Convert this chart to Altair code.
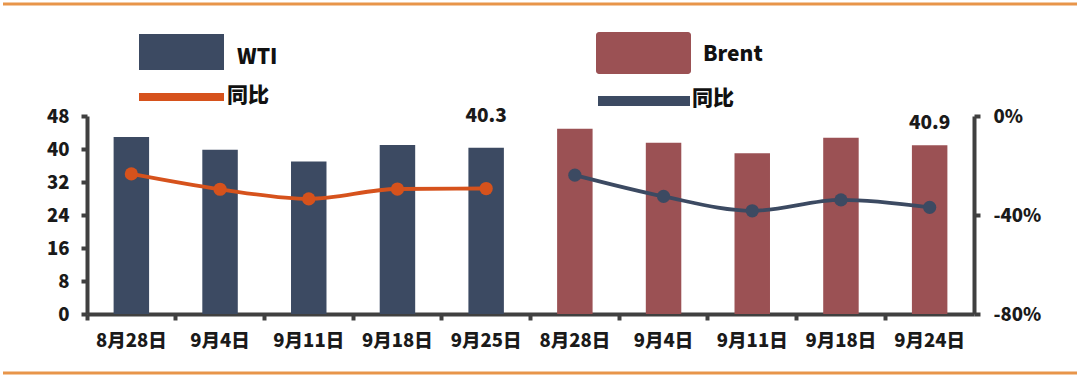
import altair as alt
import pandas as pd

# ---- data ----
series = ["WTI", "Brent"]
wti_dates = ["8月28日", "9月4日", "9月11日", "9月18日", "9月25日"]
brent_dates = ["8月28日", "9月4日", "9月11日", "9月18日", "9月24日"]
wti_price = [42.9, 39.8, 37.0, 41.0, 40.3]
brent_price = [44.9, 41.5, 39.0, 42.7, 40.9]
wti_yoy = [-0.234, -0.296, -0.335, -0.295, -0.293]
brent_yoy = [-0.239, -0.325, -0.383, -0.339, -0.369]
labelled = ["WTI|9月25日", "Brent|9月24日"]

rows = []
for s, dates, prices, yoys in [("WTI", wti_dates, wti_price, wti_yoy),
                               ("Brent", brent_dates, brent_price, brent_yoy)]:
    for d, p, y in zip(dates, prices, yoys):
        rows.append({"series": s, "date": d, "key": f"{s}|{d}", "price": p, "yoy": y})
df = pd.DataFrame(rows)
order = list(df["key"])

FONT = "Noto Sans CJK SC"
W = 900
NAVY = "#3C4A62"
MAROON = "#9B5154"
ORANGE = "#D6521C"
AXIS = "#404040"
GOLD = "#E8954A"

X = alt.X("key:N", sort=order, title=None,
          scale=alt.Scale(paddingInner=0, paddingOuter=0),
          axis=alt.Axis(labelExpr="split(datum.label, '|')[1]", labelAngle=0,
                        bandPosition=0, labelPadding=11, labelFontSize=18.5,
                        labelOverlap=False))
Yp = alt.Y("price:Q", title=None,
           scale=alt.Scale(domain=[0, 48], nice=False),
           axis=alt.Axis(values=[0, 8, 16, 24, 32, 40, 48], grid=False,
                         labelPadding=12, orient="left", labelOverlap=False))

base = alt.Chart(df)

bars = base.mark_bar(width=alt.RelativeBandSize(0.4)).encode(
    x=X, y=Yp,
    color=alt.Color("series:N", scale=alt.Scale(domain=series, range=[NAVY, MAROON]), legend=None),
)
lab1 = base.transform_filter(alt.datum.key == labelled[0]).mark_text(
    dy=-32, font=FONT, fontWeight=W, fontSize=19, color="#1a1a1a"
).encode(x=X, y=Yp, text=alt.Text("price:Q", format=".1f"))
lab2 = base.transform_filter(alt.datum.key == labelled[1]).mark_text(
    dy=-22, font=FONT, fontWeight=W, fontSize=19, color="#1a1a1a"
).encode(x=X, y=Yp, text=alt.Text("price:Q", format=".1f"))
bar_layer = alt.layer(bars, lab1, lab2)

Ypct = alt.Y("yoy:Q", title=None,
             scale=alt.Scale(domain=[-0.8, 0], nice=False),
             axis=alt.Axis(values=[0, -0.4, -0.8], format=".0%", grid=False,
                           orient="right", labelPadding=13, labelOverlap=False,
                           labelExpr="replace(datum.label, '−', '-')"))
line_color = alt.Color("series:N", scale=alt.Scale(domain=series, range=[ORANGE, NAVY]), legend=None)
lines = base.mark_line(interpolate="monotone", strokeWidth=3.8).encode(
    x=X, y=Ypct, color=line_color, detail="series:N")
points = base.mark_point(filled=True, size=175, opacity=1).encode(
    x=X, y=Ypct, color=line_color)
line_layer = alt.layer(lines, points)

# ---- custom legend and frame lines ----
one = alt.Chart(pd.DataFrame({"a": [0]}))
txt = dict(align="left", baseline="middle", font=FONT, fontWeight=W, fontSize=21, color="#111")
leg = [
    one.mark_rect(color=NAVY).encode(x=alt.value(52), x2=alt.value(137), y=alt.value(-82), y2=alt.value(-46)),
    one.mark_text(**txt).encode(x=alt.value(150), y=alt.value(-58), text=alt.value("WTI")),
    one.mark_rule(color=ORANGE, strokeWidth=8).encode(x=alt.value(52), x2=alt.value(137), y=alt.value(-19)),
    one.mark_text(**txt).encode(x=alt.value(140), y=alt.value(-20), text=alt.value("同比")),
    one.mark_rect(color=MAROON, cornerRadius=3).encode(x=alt.value(509), x2=alt.value(604), y=alt.value(-84), y2=alt.value(-42)),
    one.mark_text(**txt).encode(x=alt.value(616), y=alt.value(-61), text=alt.value("Brent")),
    one.mark_rule(color=NAVY, strokeWidth=10).encode(x=alt.value(511), x2=alt.value(603), y=alt.value(-15)),
    one.mark_text(**txt).encode(x=alt.value(605), y=alt.value(-17), text=alt.value("同比")),
    one.mark_rule(color=GOLD, strokeWidth=3).encode(x=alt.value(-84), x2=alt.value(990), y=alt.value(-112)),
    one.mark_rule(color=GOLD, strokeWidth=3).encode(x=alt.value(-84), x2=alt.value(990), y=alt.value(257)),
]

chart = alt.layer(bar_layer, line_layer, *leg).resolve_scale(
    y="independent", color="independent"
).properties(
    width=887, height=198,
    padding={"left": 87, "top": 116, "right": 106, "bottom": 64},
    autosize=alt.AutoSizeParams(type="none"),
    background="white",
).configure_view(stroke=None).configure_axis(
    domainColor=AXIS, domainWidth=4, tickColor=AXIS, tickWidth=4, tickSize=6,
    labelFont=FONT, labelFontWeight=W, labelFontSize=18.5, labelColor="#1a1a1a",
)

chart.save("out.html", embed_options={"renderer": "svg", "actions": False})
